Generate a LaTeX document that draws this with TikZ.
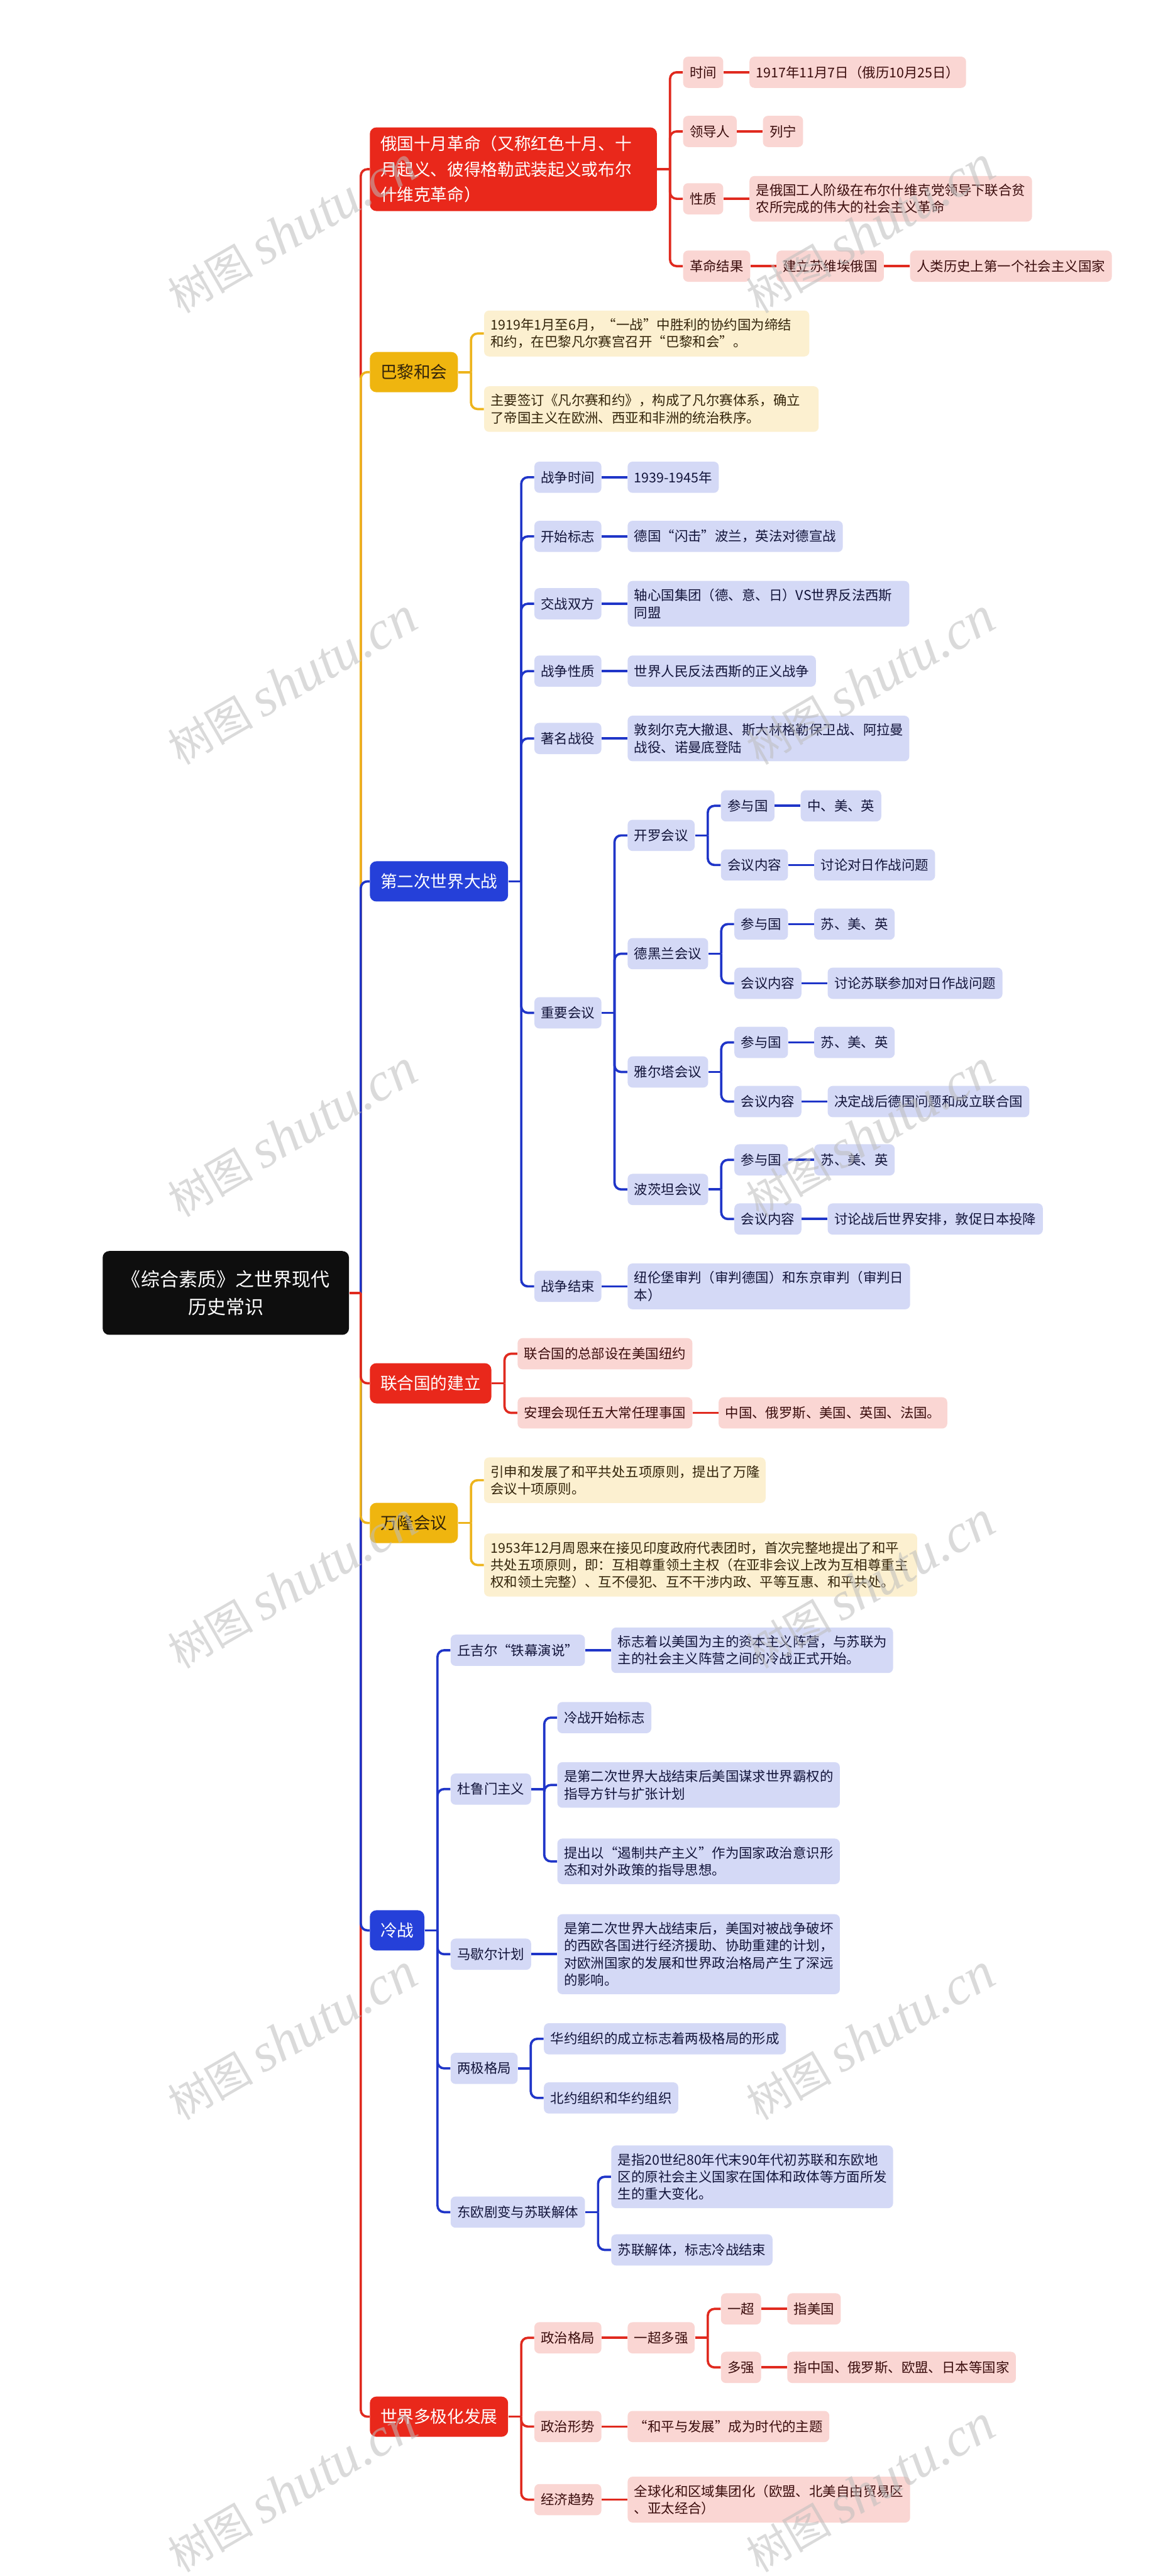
\documentclass[tikz,border=0pt]{standalone}
\usepackage{fontspec}
\setmainfont{Noto Sans CJK SC}
\newfontfamily\wmlatin{Liberation Serif}
\usetikzlibrary{calc}
\definecolor{rMain}{HTML}{E9281B}
\definecolor{rLight}{HTML}{FAD6D3}
\definecolor{rText}{HTML}{3A0C0C}
\definecolor{rLine}{HTML}{E02A1F}
\definecolor{yMain}{HTML}{EFB50F}
\definecolor{yLight}{HTML}{FCF0D0}
\definecolor{yText}{HTML}{33240A}
\definecolor{yLine}{HTML}{EDB41C}
\definecolor{bMain}{HTML}{2540D9}
\definecolor{bLight}{HTML}{D4D9F6}
\definecolor{bText}{HTML}{12143A}
\definecolor{bLine}{HTML}{1F35C8}
\definecolor{rootFill}{HTML}{0E0E0E}
\definecolor{wmGray}{HTML}{BDBDBD}
\tikzset{
  conn/.style={line width=1.4pt},
  leaf/.style={anchor=west, rounded corners=3pt, inner xsep=4pt, inner ysep=4.8pt,
    minimum height=19pt, font=\fontsize{8.2}{10.5}\selectfont, align=left},
  rL/.style={leaf, fill=rLight, text=rText},
  bL/.style={leaf, fill=bLight, text=bText},
  yL/.style={leaf, fill=yLight, text=yText},
  branch/.style={anchor=west, rounded corners=4pt, inner xsep=6.4pt, inner ysep=5pt,
    minimum height=24.5pt, font=\fontsize{10.2}{15.6}\selectfont, align=left},
  rB/.style={branch, fill=rMain, text=white},
  yB/.style={branch, fill=yMain, text=yText},
  bB/.style={branch, fill=bMain, text=white},
  rootst/.style={rounded corners=4pt, fill=rootFill, text=white, align=center,
    minimum width=150pt, minimum height=51pt, font=\fontsize{11.5}{17}\selectfont},
  wm/.style={rotate=30, text=wmGray, text opacity=0.55, font=\fontsize{26}{26}\selectfont}
}
\newcommand{\ch}[5]{\node[#1] (#3) at ($(#2.east)+(15.6,#4)$) {#5};}
\newcommand{\lb}[3]{\draw[#1,conn] (#2.east) -- ++(7.8,0);
  \draw[#1,conn,rounded corners=4pt] ($(#2.east)+(7.8,0)$) |- (#3.west);}
\newcommand{\ls}[3]{\draw[#1,conn] (#2.east) -- (#3.west);}
\newcommand{\rl}[2]{\draw[#1,conn,rounded corners=4pt] ($(root.east)+(7,0)$) |- (#2.west);}
\begin{document}
\begin{tikzpicture}[x=1pt,y=-1pt]
\fill[white] (0,0) rectangle (705,1568);
\useasboundingbox (0,0) rectangle (705,1568);

\node[rootst] (root) at (137.5,787) {《综合素质》之世界现代\\历史常识};

% ---- A 俄国十月革命
\node[rB, text width=162pt] (A) at (225,103) {俄国十月革命（又称红色十月、十\\月起义、彼得格勒武装起义或布尔\\什维克革命）};
\ch{rL}{A}{A1}{-59}{时间}
\ch{rL}{A1}{A1v}{0}{1917年11月7日（俄历10月25日）}
\ch{rL}{A}{A2}{-23}{领导人}
\ch{rL}{A2}{A2v}{0}{列宁}
\ch{rL}{A}{A3}{18}{性质}
\ch{rL,text width=164pt}{A3}{A3v}{0}{是俄国工人阶级在布尔什维克党领导下联合贫\\农所完成的伟大的社会主义革命}
\ch{rL}{A}{A4}{59}{革命结果}
\ch{rL}{A4}{A4a}{0}{建立苏维埃俄国}
\ch{rL}{A4a}{A4b}{0}{人类历史上第一个社会主义国家}

% ---- B 巴黎和会
\node[yB] (B) at (225,226.5) {巴黎和会};
\ch{yL,text width=190pt}{B}{B1}{-23.5}{1919年1月至6月，“一战”中胜利的协约国为缔结\\和约，在巴黎凡尔赛宫召开“巴黎和会”。}
\ch{yL,text width=195.7pt}{B}{B2}{22.5}{主要签订《凡尔赛和约》，构成了凡尔赛体系，确立\\了帝国主义在欧洲、西亚和非洲的统治秩序。}

% ---- C 第二次世界大战
\node[bB] (C) at (225,536.5) {第二次世界大战};
\ch{bL}{C}{C1}{-246}{战争时间}
\ch{bL}{C1}{C1v}{0}{1939-1945年}
\ch{bL}{C}{C2}{-210}{开始标志}
\ch{bL}{C2}{C2v}{0}{德国“闪击”波兰，英法对德宣战}
\ch{bL}{C}{C3}{-169}{交战双方}
\ch{bL,text width=163.5pt}{C3}{C3v}{0}{轴心国集团（德、意、日）VS世界反法西斯\\同盟}
\ch{bL}{C}{C4}{-128}{战争性质}
\ch{bL}{C4}{C4v}{0}{世界人民反法西斯的正义战争}
\ch{bL}{C}{C5}{-87}{著名战役}
\ch{bL,text width=163.5pt}{C5}{C5v}{0}{敦刻尔克大撤退、斯大林格勒保卫战、阿拉曼\\战役、诺曼底登陆}
\ch{bL}{C}{C6}{80}{重要会议}
\ch{bL}{C6}{K1}{-108}{开罗会议}
\ch{bL}{K1}{K1a}{-18}{参与国}
\ch{bL}{K1a}{K1av}{0}{中、美、英}
\ch{bL}{K1}{K1b}{18}{会议内容}
\ch{bL}{K1b}{K1bv}{0}{讨论对日作战问题}
\ch{bL}{C6}{K2}{-36}{德黑兰会议}
\ch{bL}{K2}{K2a}{-18}{参与国}
\ch{bL}{K2a}{K2av}{0}{苏、美、英}
\ch{bL}{K2}{K2b}{18}{会议内容}
\ch{bL}{K2b}{K2bv}{0}{讨论苏联参加对日作战问题}
\ch{bL}{C6}{K3}{36}{雅尔塔会议}
\ch{bL}{K3}{K3a}{-18}{参与国}
\ch{bL}{K3a}{K3av}{0}{苏、美、英}
\ch{bL}{K3}{K3b}{18}{会议内容}
\ch{bL}{K3b}{K3bv}{0}{决定战后德国问题和成立联合国}
\ch{bL}{C6}{K4}{107.5}{波茨坦会议}
\ch{bL}{K4}{K4a}{-18}{参与国}
\ch{bL}{K4a}{K4av}{0}{苏、美、英}
\ch{bL}{K4}{K4b}{18}{会议内容}
\ch{bL}{K4b}{K4bv}{0}{讨论战后世界安排，敦促日本投降}
\ch{bL}{C}{C7}{246.5}{战争结束}
\ch{bL,text width=164pt}{C7}{C7v}{0}{纽伦堡审判（审判德国）和东京审判（审判日\\本）}

% ---- D 联合国的建立
\node[rB] (D) at (225,842) {联合国的建立};
\ch{rL}{D}{D1}{-18}{联合国的总部设在美国纽约}
\ch{rL}{D}{D2}{18}{安理会现任五大常任理事国}
\ch{rL}{D2}{D2v}{0}{中国、俄罗斯、美国、英国、法国。}

% ---- E 万隆会议
\node[yB] (E) at (225,927) {万隆会议};
\ch{yL,text width=163.4pt}{E}{E1}{-26}{引申和发展了和平共处五项原则，提出了万隆\\会议十项原则。}
\ch{yL,text width=255.7pt}{E}{E2}{25.6}{1953年12月周恩来在接见印度政府代表团时，首次完整地提出了和平\\共处五项原则，即：互相尊重领土主权（在亚非会议上改为互相尊重主\\权和领土完整）、互不侵犯、互不干涉内政、平等互惠、和平共处。}

% ---- F 冷战
\node[bB] (F) at (225,1175) {冷战};
\ch{bL}{F}{F1}{-170.5}{丘吉尔“铁幕演说”}
\ch{bL,text width=163.6pt}{F1}{F1v}{0}{标志着以美国为主的资本主义阵营，与苏联为\\主的社会主义阵营之间的冷战正式开始。}
\ch{bL}{F}{F2}{-86}{杜鲁门主义}
\ch{bL}{F2}{F2a}{-43.5}{冷战开始标志}
\ch{bL,text width=164pt}{F2}{F2b}{-2.5}{是第二次世界大战结束后美国谋求世界霸权的\\指导方针与扩张计划}
\ch{bL,text width=164pt}{F2}{F2c}{44}{提出以“遏制共产主义”作为国家政治意识形\\态和对外政策的指导思想。}
\ch{bL}{F}{F3}{14.5}{马歇尔计划}
\ch{bL,text width=164pt}{F3}{F3v}{0}{是第二次世界大战结束后，美国对被战争破坏\\的西欧各国进行经济援助、协助重建的计划，\\对欧洲国家的发展和世界政治格局产生了深远\\的影响。}
\ch{bL}{F}{F4}{84}{两极格局}
\ch{bL}{F4}{F4a}{-18}{华约组织的成立标志着两极格局的形成}
\ch{bL}{F4}{F4b}{18}{北约组织和华约组织}
\ch{bL}{F}{F5}{171.5}{东欧剧变与苏联解体}
\ch{bL,text width=163.6pt}{F5}{F5a}{-21.5}{是指20世纪80年代末90年代初苏联和东欧地\\区的原社会主义国家在国体和政体等方面所发\\生的重大变化。}
\ch{bL}{F5}{F5b}{23}{苏联解体，标志冷战结束}

% ---- G 世界多极化发展
\node[rB] (G) at (225,1471) {世界多极化发展};
\ch{rL}{G}{G1}{-48}{政治格局}
\ch{rL}{G1}{G1a}{0}{一超多强}
\ch{rL}{G1a}{G1b}{-17.6}{一超}
\ch{rL}{G1b}{G1bv}{0}{指美国}
\ch{rL}{G1a}{G1c}{18}{多强}
\ch{rL}{G1c}{G1cv}{0}{指中国、俄罗斯、欧盟、日本等国家}
\ch{rL}{G}{G2}{6}{政治形势}
\ch{rL}{G2}{G2v}{0}{“和平与发展”成为时代的主题}
\ch{rL}{G}{G3}{50.5}{经济趋势}
\ch{rL,text width=164pt}{G3}{G3v}{0}{全球化和区域集团化（欧盟、北美自由贸易区\\、亚太经合）}

% ---- root links (far first)
\rl{rLine}{A}
\rl{yLine}{B}
\rl{bLine}{C}
\rl{rLine}{G}
\rl{bLine}{F}
\rl{yLine}{E}
\rl{rLine}{D}
\draw[rLine,conn] (root.east) -- ++(7,0);

% ---- A links
\lb{rLine}{A}{A1} \lb{rLine}{A}{A2} \lb{rLine}{A}{A3} \lb{rLine}{A}{A4}
\ls{rLine}{A1}{A1v} \ls{rLine}{A2}{A2v} \ls{rLine}{A3}{A3v}
\ls{rLine}{A4}{A4a} \ls{rLine}{A4a}{A4b}
% ---- B links
\lb{yLine}{B}{B1} \lb{yLine}{B}{B2}
% ---- C links
\lb{bLine}{C}{C1} \lb{bLine}{C}{C2} \lb{bLine}{C}{C3} \lb{bLine}{C}{C4}
\lb{bLine}{C}{C5} \lb{bLine}{C}{C6} \lb{bLine}{C}{C7}
\ls{bLine}{C1}{C1v} \ls{bLine}{C2}{C2v} \ls{bLine}{C3}{C3v} \ls{bLine}{C4}{C4v}
\ls{bLine}{C5}{C5v} \ls{bLine}{C7}{C7v}
\lb{bLine}{C6}{K1} \lb{bLine}{C6}{K2} \lb{bLine}{C6}{K3} \lb{bLine}{C6}{K4}
\lb{bLine}{K1}{K1a} \lb{bLine}{K1}{K1b} \ls{bLine}{K1a}{K1av} \ls{bLine}{K1b}{K1bv}
\lb{bLine}{K2}{K2a} \lb{bLine}{K2}{K2b} \ls{bLine}{K2a}{K2av} \ls{bLine}{K2b}{K2bv}
\lb{bLine}{K3}{K3a} \lb{bLine}{K3}{K3b} \ls{bLine}{K3a}{K3av} \ls{bLine}{K3b}{K3bv}
\lb{bLine}{K4}{K4a} \lb{bLine}{K4}{K4b} \ls{bLine}{K4a}{K4av} \ls{bLine}{K4b}{K4bv}
% ---- D links
\lb{rLine}{D}{D1} \lb{rLine}{D}{D2} \ls{rLine}{D2}{D2v}
% ---- E links
\lb{yLine}{E}{E1} \lb{yLine}{E}{E2}
% ---- F links
\lb{bLine}{F}{F1} \lb{bLine}{F}{F2} \lb{bLine}{F}{F3} \lb{bLine}{F}{F4} \lb{bLine}{F}{F5}
\ls{bLine}{F1}{F1v} \ls{bLine}{F3}{F3v}
\lb{bLine}{F2}{F2a} \lb{bLine}{F2}{F2b} \lb{bLine}{F2}{F2c}
\lb{bLine}{F4}{F4a} \lb{bLine}{F4}{F4b}
\lb{bLine}{F5}{F5a} \lb{bLine}{F5}{F5b}
% ---- G links
\lb{rLine}{G}{G1} \lb{rLine}{G}{G2} \lb{rLine}{G}{G3}
\ls{rLine}{G1}{G1a} \lb{rLine}{G1a}{G1b} \lb{rLine}{G1a}{G1c}
\ls{rLine}{G1b}{G1bv} \ls{rLine}{G1c}{G1cv}
\ls{rLine}{G2}{G2v} \ls{rLine}{G3}{G3v}

% ---- watermarks
\foreach \wy [count=\i] in {140,415,690,965,1240,1515}{
  \node[wm] (wmL\i) at (178,\wy) {树图 {\wmlatin\itshape\fontsize{33}{33}\selectfont shutu.cn}};
  \node[wm] (wmR\i) at (530,\wy) {树图 {\wmlatin\itshape\fontsize{33}{33}\selectfont shutu.cn}};
}
\end{tikzpicture}
\end{document}
